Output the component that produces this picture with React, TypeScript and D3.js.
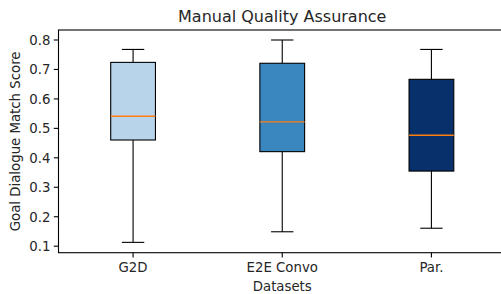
import React from "react";
import * as d3 from "d3";

const categories = ["G2D", "E2E Convo", "Par."];
const whiskerLow = [0.113, 0.149, 0.161];
const q1Values = [0.4605, 0.421, 0.355];
const medianValues = [0.541, 0.522, 0.4765];
const q3Values = [0.724, 0.721, 0.6665];
const whiskerHigh = [0.768, 0.8, 0.768];
const boxColors = ["#b7d4ea", "#3a87c0", "#08306b"];
const yTicks = [0.1, 0.2, 0.3, 0.4, 0.5, 0.6, 0.7, 0.8];

const W = 501;
const H = 294;
const left = 58.5;
const right = 506;
const top = 30;
const bottom = 252.7;

export default function App() {
  const x = d3.scaleLinear().domain([0.5, 3.5]).range([left, right]);
  const y = d3.scaleLinear().domain([0.1, 0.8]).range([246.2, 40]);
  const boxW = x(1.3) - x(1);
  const capW = boxW / 2;
  const font = "DejaVu Sans, sans-serif";
  const txt = "#262626";

  return (
    <svg width={W} height={H} style={{ position: "absolute", left: 0, top: 0, background: "#fff" }}>
      <rect x={0} y={0} width={W} height={H} fill="#fff" />
      {categories.map((c, i) => {
        const cx = x(i + 1);
        return (
          <g key={c}>
            <line x1={cx} x2={cx} y1={y(whiskerLow[i])} y2={y(q1Values[i])} stroke="#000" strokeWidth={1.1} />
            <line x1={cx} x2={cx} y1={y(q3Values[i])} y2={y(whiskerHigh[i])} stroke="#000" strokeWidth={1.1} />
            <line x1={cx - capW / 2} x2={cx + capW / 2} y1={y(whiskerLow[i])} y2={y(whiskerLow[i])} stroke="#000" strokeWidth={1.1} />
            <line x1={cx - capW / 2} x2={cx + capW / 2} y1={y(whiskerHigh[i])} y2={y(whiskerHigh[i])} stroke="#000" strokeWidth={1.1} />
            <rect
              x={cx - boxW / 2}
              y={y(q3Values[i])}
              width={boxW}
              height={y(q1Values[i]) - y(q3Values[i])}
              fill={boxColors[i]}
              stroke="#000"
              strokeWidth={1.1}
            />
            <line x1={cx - boxW / 2} x2={cx + boxW / 2} y1={y(medianValues[i])} y2={y(medianValues[i])} stroke="#ff7f0e" strokeWidth={1.4} />
            <line x1={cx} x2={cx} y1={bottom} y2={bottom + 4.7} stroke="#000" strokeWidth={1.1} />
            <text x={cx} y={bottom + 19.5} textAnchor="middle" fontFamily={font} fontSize={13.3} fill={txt}>
              {c}
            </text>
          </g>
        );
      })}
      {yTicks.map((t) => (
        <g key={t}>
          <line x1={left - 4.7} x2={left} y1={y(t)} y2={y(t)} stroke="#000" strokeWidth={1.1} />
          <text x={left - 8} y={y(t)} dy="0.36em" textAnchor="end" fontFamily={font} fontSize={13.3} fill={txt}>
            {t.toFixed(1)}
          </text>
        </g>
      ))}
      <rect x={left} y={top} width={right - left} height={bottom - top} fill="none" stroke="#000" strokeWidth={1.1} />
      <text x={(left + right) / 2} y={21.5} textAnchor="middle" fontFamily={font} fontSize={16} fill={txt}>
        Manual Quality Assurance
      </text>
      <text x={(left + right) / 2} y={291} textAnchor="middle" fontFamily={font} fontSize={13.3} fill={txt}>
        Datasets
      </text>
      <text
        transform={`translate(19.5, ${(top + bottom) / 2}) rotate(-90)`}
        textAnchor="middle"
        fontFamily={font}
        fontSize={13.3}
        fill={txt}
      >
        Goal Dialogue Match Score
      </text>
    </svg>
  );
}
